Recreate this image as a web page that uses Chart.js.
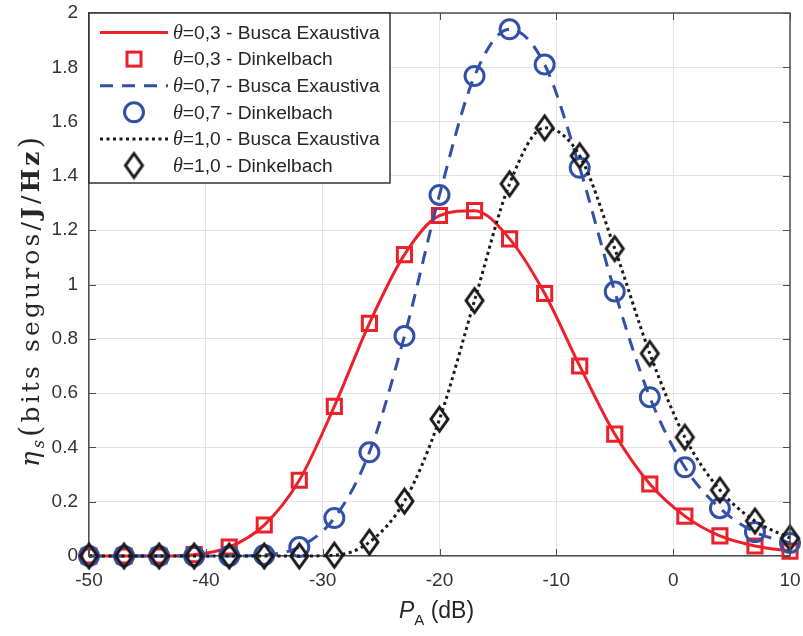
<!DOCTYPE html>
<html>
<head>
<meta charset="utf-8">
<script src="https://cdn.jsdelivr.net/npm/chart.js@4.4.0/dist/chart.umd.min.js"></script>
<style>
body { margin: 0; background: #fff; }
</style>
</head>
<body>
<canvas id="grafico" width="803" height="636"></canvas>
<script>
// dados
var pa = [-50, -47, -44, -41, -38, -35, -32, -29, -26, -23, -20, -17, -14, -11, -8, -5, -2, 1, 4, 7, 10];
var eta03 = [0, 0, 0, 0.005, 0.033, 0.114, 0.279, 0.551, 0.857, 1.11, 1.254, 1.272, 1.168, 0.967, 0.70, 0.449, 0.265, 0.147, 0.074, 0.037, 0.018];
var eta07 = [0, 0, 0, 0, 0, 0.004, 0.033, 0.14, 0.382, 0.81, 1.33, 1.768, 1.94, 1.81, 1.43, 0.974, 0.585, 0.327, 0.176, 0.088, 0.048];
var eta10 = [0, 0, 0, 0, 0, 0, 0, 0.003, 0.051, 0.202, 0.504, 0.941, 1.371, 1.577, 1.474, 1.132, 0.746, 0.4375, 0.243, 0.129, 0.066];
var xTicks = [-50, -40, -30, -20, -10, 0, 10];
var yTicks = [0, 0.2, 0.4, 0.6, 0.8, 1, 1.2, 1.4, 1.6, 1.8, 2];
var thetas = ["0,3", "0,3", "0,7", "0,7", "1,0", "1,0"];
var metodos = ["Busca Exaustiva", "Dinkelbach", "Busca Exaustiva", "Dinkelbach", "Busca Exaustiva", "Dinkelbach"];

var vermelho = "rgb(236,32,40)";
var azul = "rgb(50,80,166)";
var preto = "rgb(26,26,26)";
var corEixo = "#4d4d4d";

function pts(ys) {
	return pa.map(function (x, i) { return { x: x, y: ys[i] }; });
}

// losango alto, como o marcador 'd' do MATLAB
function losango(w, h, cor, lw) {
	var c = document.createElement("canvas");
	c.width = w + lw * 2;
	c.height = h + lw * 2;
	var g = c.getContext("2d");
	g.strokeStyle = cor;
	g.lineWidth = lw;
	g.lineJoin = "miter";
	g.beginPath();
	g.moveTo(c.width / 2, lw);
	g.lineTo(c.width - lw, c.height / 2);
	g.lineTo(c.width / 2, c.height - lw);
	g.lineTo(lw, c.height / 2);
	g.closePath();
	g.stroke();
	return c;
}
var diamante = losango(17, 24, preto, 3);

var linha = function (ys, cor, dash, ordem) {
	return {
		data: pts(ys), showLine: true, borderColor: cor, borderWidth: 3, borderDash: dash,
		pointRadius: 0, cubicInterpolationMode: "monotone", fill: false, order: ordem, clip: false
	};
};
var marcas = function (ys, cor, estilo, raio, ordem) {
	return {
		data: pts(ys), showLine: false, pointStyle: estilo, pointRadius: raio,
		pointBorderColor: cor, pointBackgroundColor: "rgba(0,0,0,0)", pointBorderWidth: 3,
		order: ordem, clip: false
	};
};

var datasets = [
	linha(eta03, vermelho, [], 6),
	marcas(eta03, vermelho, "rect", 10, 5),
	linha(eta07, azul, [13, 9], 4),
	marcas(eta07, azul, "circle", 9.5, 3),
	linha(eta10, preto, [3, 3.5], 2),
	marcas(eta10, preto, diamante, 10, 1)
];

// caixa, ticks para dentro, legenda e títulos
var extras = {
	id: "extras",
	afterDraw: function (chart) {
		var ctx = chart.ctx;
		var a = chart.chartArea;
		var sx = chart.scales.x, sy = chart.scales.y;
		ctx.save();
		ctx.strokeStyle = corEixo;
		ctx.lineWidth = 1.5;
		ctx.beginPath();
		ctx.moveTo(a.left, a.top); ctx.lineTo(a.right, a.top); ctx.lineTo(a.right, a.bottom);
		ctx.stroke();
		ctx.lineWidth = 1;
		ctx.beginPath();
		xTicks.forEach(function (v) {
			var px = Math.round(sx.getPixelForValue(v)) + 0.5;
			ctx.moveTo(px, a.bottom); ctx.lineTo(px, a.bottom - 7);
			ctx.moveTo(px, a.top); ctx.lineTo(px, a.top + 7);
		});
		yTicks.forEach(function (v) {
			var py = Math.round(sy.getPixelForValue(v)) + 0.5;
			ctx.moveTo(a.left, py); ctx.lineTo(a.left + 7, py);
			ctx.moveTo(a.right, py); ctx.lineTo(a.right - 7, py);
		});
		ctx.stroke();

		// legenda
		var lx = a.left, ly = a.top, lw = 301, lh = 170;
		ctx.fillStyle = "#fff";
		ctx.fillRect(lx, ly, lw, lh);
		ctx.strokeStyle = "#333";
		ctx.lineWidth = 1.5;
		ctx.strokeRect(lx, ly, lw, lh);
		for (var i = 0; i < 6; i++) {
			var ds = datasets[i];
			var cy = ly + 19.5 + i * 26.6;
			if (ds.showLine === false) {
				var cx = lx + 45;
				ctx.lineWidth = 3;
				ctx.strokeStyle = ds.pointBorderColor;
				if (ds.pointStyle === "rect") {
					ctx.strokeRect(cx - 7, cy - 7, 14, 14);
				} else if (ds.pointStyle === "circle") {
					ctx.beginPath(); ctx.arc(cx, cy, 9.5, 0, Math.PI * 2); ctx.stroke();
				} else {
					ctx.drawImage(diamante, cx - diamante.width / 2, cy - diamante.height / 2);
				}
			} else {
				ctx.lineWidth = 3;
				ctx.strokeStyle = ds.borderColor;
				ctx.setLineDash(ds.borderDash);
				ctx.beginPath(); ctx.moveTo(lx + 11, cy); ctx.lineTo(lx + 79, cy); ctx.stroke();
				ctx.setLineDash([]);
			}
			ctx.fillStyle = "#262626";
			ctx.textBaseline = "middle";
			ctx.textAlign = "left";
			ctx.font = "italic 20px 'Liberation Serif'";
			var tx = lx + 84;
			ctx.fillText("θ", tx, cy + 1);
			tx += ctx.measureText("θ").width;
			ctx.font = "19.2px 'Liberation Sans'";
			ctx.fillText("=" + thetas[i] + " - " + metodos[i], tx, cy + 1);
		}

		// título do eixo x
		ctx.fillStyle = "#262626";
		ctx.textBaseline = "alphabetic";
		var partes = [["P", "italic 23px 'Liberation Sans'", 0], ["A", "15px 'Liberation Sans'", 7], [" (dB)", "23px 'Liberation Sans'", 0]];
		var total = 0;
		partes.forEach(function (p) { ctx.font = p[1]; total += ctx.measureText(p[0]).width; });
		var x0 = (a.left + a.right) / 2 - total / 2 - 3;
		partes.forEach(function (p) { ctx.font = p[1]; ctx.fillText(p[0], x0, 618 + p[2]); x0 += ctx.measureText(p[0]).width; });

		// título do eixo y, letra a letra
		ctx.translate(31, 302);
		ctx.rotate(-Math.PI / 2);
		var py = [["η", "italic 26px 'DejaVu Serif'", 0], ["s", "italic 16px 'DejaVu Serif'", 5], ["(", "29px 'DejaVu Serif'", 1],
			["bits seguros/", "25px 'DejaVu Serif'", 0], ["J", "bold 25px 'DejaVu Serif'", 0], ["/", "25px 'DejaVu Serif'", 0],
			["Hz", "bold 25px 'DejaVu Serif'", 0], [")", "29px 'DejaVu Serif'", 1]];
		var letras = [];
		total = 0;
		py.forEach(function (p) {
			ctx.font = p[1];
			p[0].split("").forEach(function (ch) {
				var w = ctx.measureText(ch).width;
				letras.push([ch, p[1], p[2], w]);
				total += w;
			});
		});
		var comp = 330;
		var gap = Math.max(0, (comp - total) / (letras.length - 1));
		var k = Math.min(1, comp / total);
		ctx.scale(k, k);
		x0 = -(total + gap * (letras.length - 1)) / 2;
		letras.forEach(function (l) { ctx.font = l[1]; ctx.fillText(l[0], x0, 8 + l[2]); x0 += l[3] + gap; });
		ctx.restore();
	}
};

function semPaddingX(s) { s.height = 80; s.paddingLeft = 0; s.paddingRight = 0; }
function semPaddingY(s) { s.width = 89; s.paddingTop = 0; s.paddingBottom = 0; }

new Chart(document.getElementById("grafico"), {
	type: "scatter",
	data: { datasets: datasets },
	options: {
		responsive: false,
		animation: false,
		layout: { padding: { top: 12, right: 11, left: 0, bottom: 0 } },
		plugins: { legend: { display: false }, tooltip: { enabled: false } },
		scales: {
			x: {
				type: "linear", min: -50, max: 10,
				afterBuildTicks: function (s) { s.ticks = xTicks.map(function (v) { return { value: v }; }); },
				afterFit: semPaddingX,
				ticks: { color: "#333", font: { family: "'Liberation Sans'", size: 19 }, padding: 13, maxRotation: 0,
					callback: function (v) { return String(v); } },
				grid: { color: "#e3e3e3", drawTicks: false },
				border: { color: corEixo, width: 1.5 }
			},
			y: {
				min: 0, max: 2,
				afterBuildTicks: function (s) { s.ticks = yTicks.map(function (v) { return { value: v }; }); },
				afterFit: semPaddingY,
				ticks: { color: "#333", font: { family: "'Liberation Sans'", size: 19 }, padding: 11,
					callback: function (v) { return String(+v.toFixed(1)); } },
				grid: { color: "#e3e3e3", drawTicks: false },
				border: { color: corEixo, width: 1.5 }
			}
		}
	},
	plugins: [extras]
});
</script>
</body>
</html>
